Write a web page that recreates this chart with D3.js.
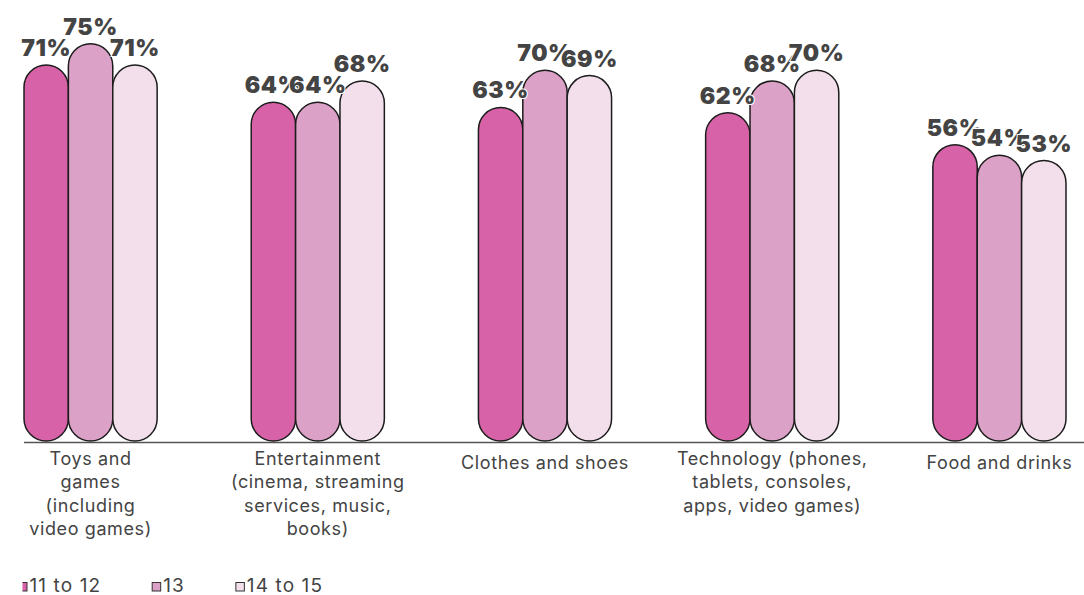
<!DOCTYPE html>
<html>
<head>
<meta charset="utf-8">
<script src="https://cdn.jsdelivr.net/npm/d3@7"></script>
<style>
  html, body { margin: 0; padding: 0; background: #fff; }
  svg { display: block; }
</style>
</head>
<body>
<svg id="chart" width="1084" height="595"></svg>
<script>
// Categories and their wrapped tick labels
const categories = [
  "Toys and games (including video games)",
  "Entertainment (cinema, streaming services, music, books)",
  "Clothes and shoes",
  "Technology (phones, tablets, consoles, apps, video games)",
  "Food and drinks"
];
const categoryLines = [
  ["Toys and", "games", "(including", "video games)"],
  ["Entertainment", "(cinema, streaming", "services, music,", "books)"],
  ["Clothes and shoes"],
  ["Technology (phones,", "tablets, consoles,", "apps, video games)"],
  ["Food and drinks"]
];

// Age groups (series) and their percentages per category
const seriesNames = ["11 to 12", "13", "14 to 15"];
const age11to12 = [71, 64, 63, 62, 56];
const age13     = [75, 64, 70, 68, 54];
const age14to15 = [71, 68, 69, 70, 53];
const seriesValues = [age11to12, age13, age14to15];

const seriesColors = ["#d762a7", "#dca1c6", "#f2dfeb"];

const svg = d3.select("#chart");
const baseline = 442;
const fontFamily = "Inter, 'Noto Sans', sans-serif";

const x = d3.scaleBand()
  .domain(categories)
  .range([24, 1066])
  .paddingInner(0.414)
  .paddingOuter(0);

const xs = d3.scaleBand()
  .domain(seriesNames)
  .range([0, x.bandwidth()]);

const y = d3.scaleLinear()
  .domain([0, 100])
  .range([baseline, baseline - 531]);

const color = d3.scaleOrdinal().domain(seriesNames).range(seriesColors);

// Flatten into one record per bar
const bars = [];
categories.forEach((c, i) => {
  seriesNames.forEach((s, j) => {
    bars.push({ category: c, series: s, value: seriesValues[j][i] });
  });
});

// Axis baseline
svg.append("line")
  .attr("x1", 24).attr("x2", 1084)
  .attr("y1", baseline + 0.5).attr("y2", baseline + 0.5)
  .attr("stroke", "#555").attr("stroke-width", 1.5);

// Pill-shaped bars
const bw = xs.bandwidth();
svg.append("g")
  .selectAll("rect")
  .data(bars)
  .join("rect")
  .attr("x", d => x(d.category) + xs(d.series))
  .attr("y", d => y(d.value))
  .attr("width", bw)
  .attr("height", d => y(0) - y(d.value) - 1)
  .attr("rx", bw / 2)
  .attr("ry", bw / 2)
  .attr("fill", d => color(d.series))
  .attr("stroke", "#1c1c1c")
  .attr("stroke-width", 1.5);

// Value labels
svg.append("g")
  .selectAll("text")
  .data(bars)
  .join("text")
  .attr("x", d => x(d.category) + xs(d.series) + bw / 2)
  .attr("y", d => y(d.value) - 9)
  .attr("text-anchor", "middle")
  .attr("font-family", fontFamily)
  .attr("font-weight", 900)
  .attr("font-size", 23)
  .attr("letter-spacing", 0.6)
  .attr("fill", "#444")
  .attr("stroke", "#fff")
  .attr("stroke-width", 2)
  .attr("paint-order", "stroke")
  .text(d => d.value + "%");

// Category tick labels
const tickG = svg.append("g")
  .attr("font-family", fontFamily)
  .attr("font-size", 18)
  .attr("letter-spacing", 0.6)
  .attr("fill", "#444")
  .attr("text-anchor", "middle");

categories.forEach((c, i) => {
  const lines = categoryLines[i];
  const cx = x(c) + x.bandwidth() / 2;
  const t = tickG.append("text")
    .attr("x", cx)
    .attr("y", lines.length === 1 ? 469 : 465);
  lines.forEach((ln, k) => {
    t.append("tspan")
      .attr("x", cx)
      .attr("dy", k === 0 ? 0 : 23.3)
      .text(ln);
  });
});

// Legend
svg.append("clipPath").attr("id", "legend-clip")
  .append("rect").attr("x", 22.5).attr("y", 560).attr("width", 1062).attr("height", 35);

const legend = svg.append("g").attr("clip-path", "url(#legend-clip)");
let lx = 29.5;
seriesNames.forEach(s => {
  legend.append("rect")
    .attr("x", lx - 11).attr("y", 582.5)
    .attr("width", 8.5).attr("height", 8.5)
    .attr("fill", color(s))
    .attr("stroke", "#333").attr("stroke-width", 1);
  const t = legend.append("text")
    .attr("x", lx).attr("y", 592)
    .attr("font-family", fontFamily)
    .attr("font-size", 19)
    .attr("letter-spacing", 1.1)
    .attr("fill", "#444")
    .text(s);
  lx += t.node().getComputedTextLength() + 62;
});
</script>
</body>
</html>
